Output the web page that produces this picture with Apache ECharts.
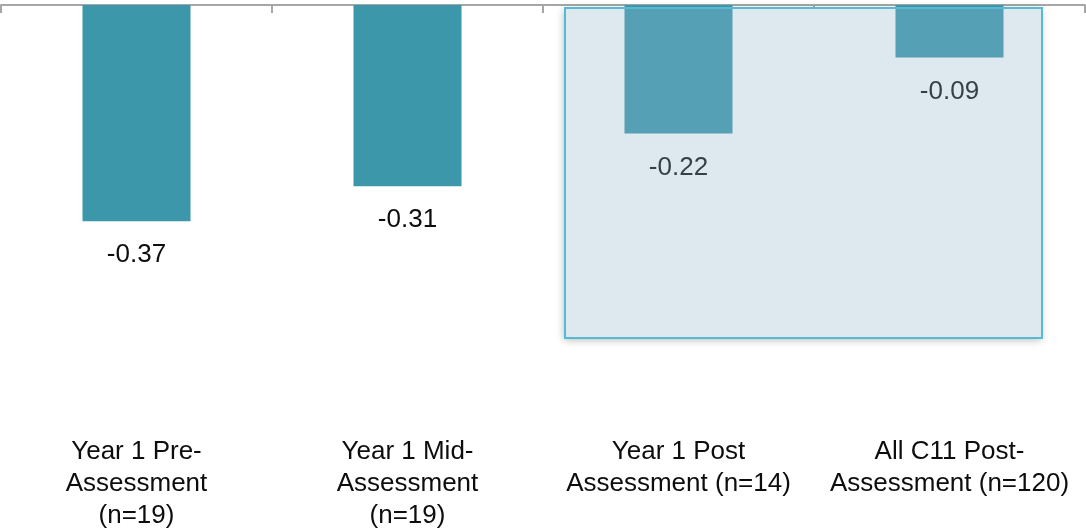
<!DOCTYPE html>
<html><head><meta charset="utf-8">
<script src="https://cdn.jsdelivr.net/npm/echarts@6/dist/echarts.min.js"></script>
<style>html,body{margin:0;padding:0;background:#fff}#c{width:1086px;height:529px}</style>
</head><body><div id="c"></div>
<script>
const categories = ["Year 1 Pre-\nAssessment\n(n=19)", "Year 1 Mid-\nAssessment\n(n=19)", "Year 1 Post\nAssessment (n=14)", "All C11 Post-\nAssessment (n=120)"];
const values = [-0.37, -0.31, -0.22, -0.09];

const FONT = 'Liberation Sans, Arial, sans-serif';
const chart = echarts.init(document.getElementById('c'), null, {renderer: 'canvas'});
chart.setOption({
  animation: false,
  grid: {left: 1, right: 1, top: 5, bottom: 115, containLabel: false, outerBoundsMode: 'none'},
  xAxis: [
    {type: 'category', position: 'top', data: categories,
     axisLine: {lineStyle: {color: '#a6a6a6', width: 2}},
     axisTick: {show: true, inside: true, length: 8, lineStyle: {color: '#a6a6a6', width: 2}},
     axisLabel: {show: false}},
    {type: 'category', position: 'bottom', data: categories,
     axisLine: {show: false}, axisTick: {show: false},
     axisLabel: {show: true, interval: 0, margin: 22, fontFamily: FONT,
       fontSize: 26, lineHeight: 32, color: '#0d0d0d', align: 'center'}}
  ],
  yAxis: {type: 'value', min: -0.7, max: 0, show: false, splitLine: {show: false}},
  series: [{
    type: 'bar', xAxisIndex: 0, data: values, barWidth: 108, z: 2,
    itemStyle: {color: '#3d97ab'},
    label: {show: true, position: 'bottom', distance: 21, fontFamily: FONT,
      fontSize: 26, color: '#0d0d0d', formatter: p => p.value.toFixed(2)}
  }],
  graphic: [{
    type: 'rect', left: 564, top: 7, z: 1,
    shape: {width: 477, height: 330},
    style: {fill: '#fff', shadowBlur: 8, shadowOffsetY: 3, shadowColor: 'rgba(0,0,0,0.28)'}
  }, {
    type: 'rect', left: 564, top: 7, z: 100,
    shape: {width: 477, height: 330},
    style: {fill: 'rgba(143,182,202,0.3)', stroke: '#55bad4', lineWidth: 2}
  }]
});
</script></body></html>
